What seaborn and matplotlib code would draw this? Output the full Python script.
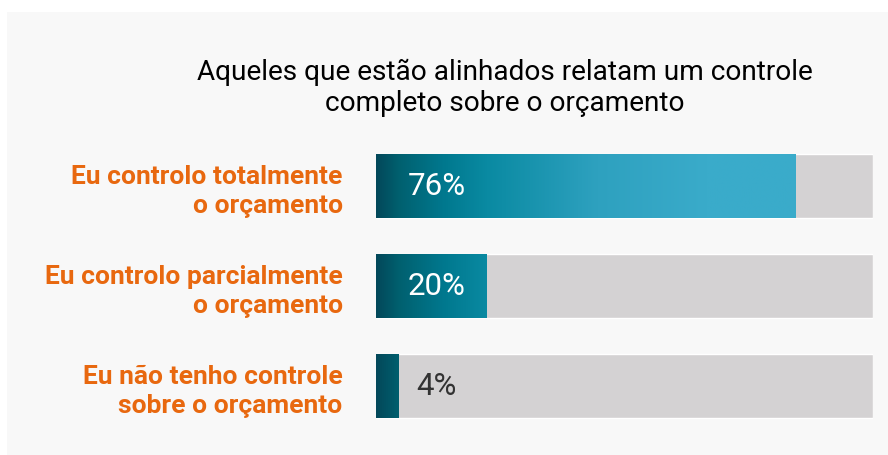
import numpy as np
import matplotlib
matplotlib.use("Agg")
import matplotlib.pyplot as plt
from matplotlib.colors import LinearSegmentedColormap
from matplotlib.patches import Rectangle
import seaborn as sns

# data
categories = ["Eu controlo totalmente\no orçamento",
              "Eu controlo parcialmente\no orçamento",
              "Eu não tenho controle\nsobre o orçamento"]
values = [76, 20, 4]
title = "Aqueles que estão alinhados relatam um controle\ncompleto sobre o orçamento"
AXIS_MAX = 90

sns.set_theme(style="white")
plt.rcParams["font.family"] = ["Roboto", "DejaVu Sans"]

ORANGE = "#e8680f"
TRACK = "#d4d2d3"
PANEL = "#f8f8f8"

fig = plt.figure(figsize=(8.88, 4.55), dpi=100)
fig.patch.set_facecolor("white")
fig.patches.append(Rectangle((7 / 888, 0.0), 1 - 7 / 888, 1 - 12 / 455,
                             transform=fig.transFigure, facecolor=PANEL,
                             edgecolor="none", zorder=-10))

ax = fig.add_axes([376 / 888, 1 - 436 / 455, 497 / 888, 300 / 455])
ax.set_facecolor("none")

# gray track
sns.barplot(x=[AXIS_MAX] * len(categories), y=categories, orient="h",
            color=TRACK, width=0.64, saturation=1, ax=ax)
n_track = len(ax.patches)
sns.barplot(x=values, y=categories, orient="h", color="#0a8aa2",
            width=0.64, saturation=1, ax=ax)

cmap = LinearSegmentedColormap.from_list("teal", [
    (0.0, "#03485a"), (4 / AXIS_MAX, "#00606f"), (12 / AXIS_MAX, "#00788e"),
    (20 / AXIS_MAX, "#0a8aa2"), (40 / AXIS_MAX, "#2ea1bf"),
    (60 / AXIS_MAX, "#3aabca"), (1.0, "#3aabca")])
grad = np.linspace(0, 1, 512).reshape(1, -1)
for p in ax.patches[n_track:]:
    p.set_edgecolor("none")
    y0 = p.get_y()
    im = ax.imshow(grad, cmap=cmap, aspect="auto", interpolation="bilinear",
                   extent=[0, AXIS_MAX, y0 + p.get_height(), y0], zorder=3)
    im.set_clip_path(p)

ax.set_xlim(0, AXIS_MAX)
ax.set_ylim(2.5, -0.5)

for i, v in enumerate(values):
    ax.text(11, i, f"{v}%", ha="center", va="center", fontsize=22.5,
            color="white" if v > 11 else "#333333", zorder=5)

ax.set_xlabel("")
ax.set_ylabel("")
ax.set_xticks([])
ax.tick_params(axis="y", length=0, pad=24)
for t in ax.get_yticklabels():
    t.set_color(ORANGE)
    t.set_fontsize(19)
    t.set_fontweight("bold")
    t.set_linespacing(1.3)
sns.despine(ax=ax, left=True, bottom=True)

fig.text(505 / 888, 1 - 88 / 455, title, ha="center", va="center",
         fontsize=20.2, color="black", linespacing=1.2)

fig.savefig("out.png", dpi=100, facecolor="white")
